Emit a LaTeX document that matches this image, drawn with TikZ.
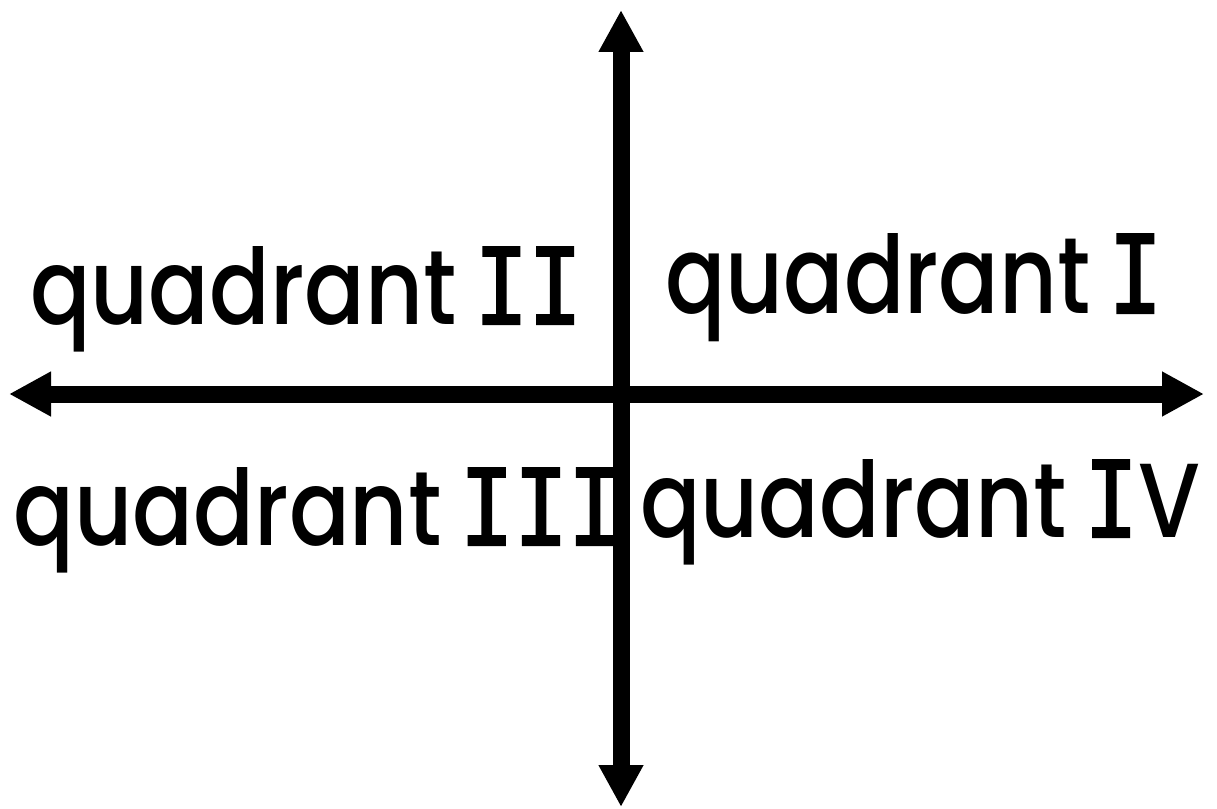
\documentclass[tikz,border=0pt]{standalone}
\usepackage{fontspec}
\setmainfont{Poppins Medium}
\newfontfamily\romfont{DejaVu Sans Mono}[FakeBold=2]
\usetikzlibrary{arrows.meta}
\tikzset{
  axis/.style={line width=17pt, {Triangle[length=42pt,width=42pt]}-{Triangle[length=42pt,width=42pt]}},
  qlabel/.style={anchor=base west, inner sep=0pt, font=\fontsize{100}{100}\selectfont}
}
\newcommand{\rom}[1]{{\romfont #1}}
\begin{document}
\begin{tikzpicture}[x=1pt,y=-1pt]
\useasboundingbox (0,0) rectangle (1217,808);
\node[qlabel] (q2) at (30,324) {\resizebox{552pt}{78pt}{quadrant\hspace{0.2em}\rom{II}}};
\node[qlabel] (q1) at (665,313) {\resizebox{497pt}{80pt}{quadrant\hspace{0.2em}\rom{I}}};
\node[qlabel] (q3) at (13,545) {\resizebox{609pt}{78pt}{quadrant\hspace{0.2em}\rom{III}}};
\node[qlabel] (q4) at (640,537) {\resizebox{560pt}{78pt}{quadrant\hspace{0.2em}\rom{I}V}};
\coordinate (L) at (9,394);
\coordinate (R) at (1204,394);
\coordinate (T) at (621,10);
\coordinate (B) at (621,807);
\draw[axis] (L) -- (R);
\draw[axis] (T) -- (B);
\end{tikzpicture}
\end{document}
